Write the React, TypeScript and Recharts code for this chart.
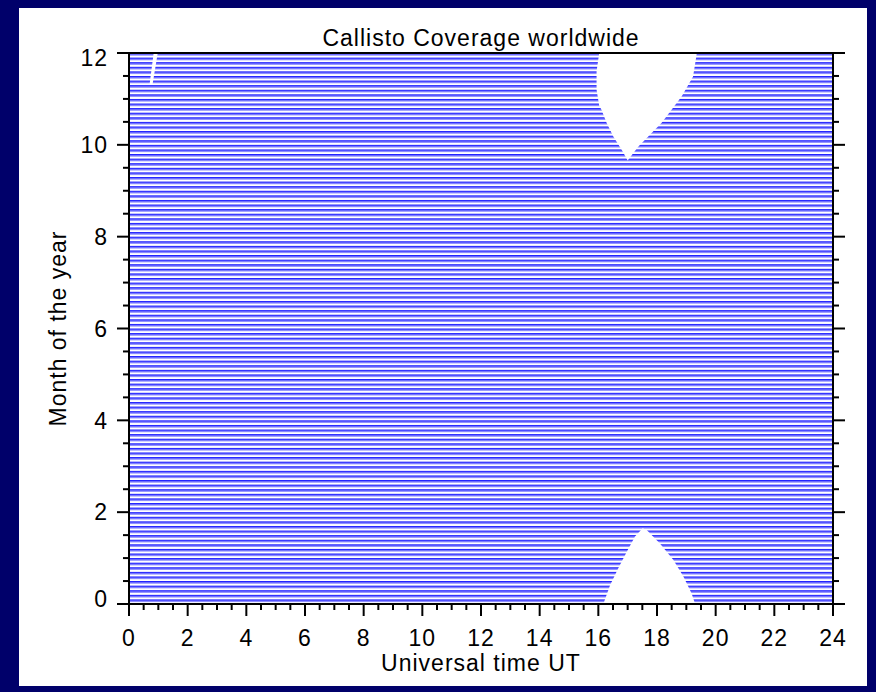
import { ComposedChart, Area, XAxis, YAxis, Label } from "recharts";

// Axis labels (UT hours and months), minor ticks every half unit
const hourLabels = [0, 2, 4, 6, 8, 10, 12, 14, 16, 18, 20, 22, 24];
const monthLabels = [0, 2, 4, 6, 8, 10, 12];

// Hatched band: the whole day / whole year is covered
const coverHours = [0, 24];
const coverFrom = [0, 0];
const coverTo = [12, 12];

// Uncovered gap at the start of the year (17-19 UT)
const gapJanHours = [16.17, 16.4, 16.68, 16.97, 17.25, 17.51, 17.65, 18.1, 18.56, 18.9, 19.18, 19.3];
const gapJanFrom = [0, 0, 0, 0, 0, 0, 0, 0, 0, 0, 0, 0];
const gapJanTo = [0, 0.41, 0.78, 1.14, 1.47, 1.65, 1.61, 1.32, 0.96, 0.6, 0.23, 0];

// Uncovered gap at the end of the year
const gapDecHours = [15.94, 16.03, 16.11, 16.28, 16.51, 16.8, 17.0, 17.36, 18.16, 18.84, 19.23, 19.35];
const gapDecFrom = [11.2, 10.85, 10.76, 10.48, 10.18, 9.89, 9.66, 9.96, 10.48, 11.05, 11.49, 11.96];
const gapDecTo = [11.6, 12, 12, 12, 12, 12, 12, 12, 12, 12, 12, 12];

// Thin sliver just after midnight in December
const sliverHours = [0.7, 0.8, 0.84, 0.98];
const sliverFrom = [11.31, 11.31, 11.46, 12];
const sliverTo = [11.31, 11.8, 12, 12];

const toRows = (hours: number[], from: number[], to: number[]) =>
	hours.map((h, i) => ({ h, m: [from[i], to[i]] }));

const halfSteps = (labels: number[]) => {
	const out: number[] = [];
	for (let i = 0; i < labels.length - 1; i++) {
		const a = labels[i];
		const b = labels[i + 1];
		out.push(a, a + (b - a) / 4, a + (b - a) / 2, a + (3 * (b - a)) / 4);
	}
	out.push(labels[labels.length - 1]);
	return out;
};

const hourTicks = halfSteps(hourLabels);
const monthTicks = halfSteps(monthLabels);

const font = {
	fontFamily: '"Liberation Sans", Arial, sans-serif',
	fontSize: 23,
	letterSpacing: 1,
	fill: "#000",
};

type TickProps = { x?: number; y?: number; payload?: { value: number } };

const isMajor = (v: number) => Math.abs(v % 2) < 1e-6;

const BottomTick = ({ x = 0, y = 0, payload }: TickProps) => {
	const v = payload?.value ?? 0;
	const major = isMajor(v);
	return (
		<g>
			<line x1={x} x2={x} y1={y} y2={y + (major ? 12 : 6)} stroke="#000" strokeWidth={2} />
			{major && (
				<text x={x} y={y + 42} textAnchor="middle" style={font}>
					{v}
				</text>
			)}
		</g>
	);
};

const TopTick = ({ x = 0, y = 0, payload }: TickProps) => {
	const major = isMajor(payload?.value ?? 0);
	return <line x1={x} x2={x} y1={y} y2={y - (major ? 12 : 6)} stroke="#000" strokeWidth={2} />;
};

const LeftTick = ({ x = 0, y = 0, payload }: TickProps) => {
	const v = payload?.value ?? 0;
	const major = isMajor(v);
	// keep the end labels inside the frame, as the original does
	const nudge = v === 12 ? 5 : v === 0 ? -5 : 0;
	return (
		<g>
			<line x1={x} x2={x - (major ? 12 : 6)} y1={y} y2={y} stroke="#000" strokeWidth={2} />
			{major && (
				<text x={x - 21} y={y + nudge} dy="0.36em" textAnchor="end" style={font}>
					{v}
				</text>
			)}
		</g>
	);
};

const RightTick = ({ x = 0, y = 0, payload }: TickProps) => {
	const major = isMajor(payload?.value ?? 0);
	return <line x1={x} x2={x + (major ? 12 : 6)} y1={y} y2={y} stroke="#000" strokeWidth={2} />;
};

type Box = { x: number; y: number; width: number; height: number };

const boxOf = (p: unknown): Box => {
	const vb = (p as { viewBox?: Box }).viewBox;
	return vb ?? { x: 0, y: 0, width: 0, height: 0 };
};

const axisLine = { stroke: "#000", strokeWidth: 2 };

export default function App() {
	return (
		<div
			style={{
				position: "absolute",
				left: 0,
				top: 0,
				width: 876,
				height: 692,
				background: "#00006a",
			}}
		>
			<div
				style={{
					position: "absolute",
					left: 19,
					top: 8,
					width: 848,
					height: 678,
					background: "#fff",
				}}
			>
				<ComposedChart width={848} height={678} margin={{ top: 0, right: 0, bottom: 0, left: 0 }}>
					<defs>
						<pattern id="stripes" patternUnits="userSpaceOnUse" x={0} y={45} width={8} height={4.5917}>
							<rect x={0} y={0} width={8} height={1.6} fill="#2222ff" />
							<rect x={0} y={1.6} width={8} height={1.0} fill="#8484ff" />
						</pattern>
					</defs>

					<Area
						data={toRows(coverHours, coverFrom, coverTo)}
						dataKey="m"
						type="linear"
						stroke="none"
						fill="url(#stripes)"
						fillOpacity={1}
						isAnimationActive={false}
					/>
					<Area
						data={toRows(gapJanHours, gapJanFrom, gapJanTo)}
						dataKey="m"
						type="linear"
						stroke="none"
						fill="#fff"
						fillOpacity={1}
						isAnimationActive={false}
					/>
					<Area
						data={toRows(gapDecHours, gapDecFrom, gapDecTo)}
						dataKey="m"
						type="linear"
						stroke="none"
						fill="#fff"
						fillOpacity={1}
						isAnimationActive={false}
					/>
					<Area
						data={toRows(sliverHours, sliverFrom, sliverTo)}
						dataKey="m"
						type="linear"
						stroke="none"
						fill="#fff"
						fillOpacity={1}
						isAnimationActive={false}
					/>

					<XAxis
						dataKey="h"
						type="number"
						domain={[0, 24]}
						allowDataOverflow
						ticks={hourTicks}
						interval={0}
						height={82}
						tickSize={0}
						tickMargin={0}
						tickLine={false}
						axisLine={axisLine}
						tick={<BottomTick />}
						label={
							<Label
								content={(p) => {
									const vb = boxOf(p);
									return (
										<text x={vb.x + vb.width / 2} y={vb.y + 67} textAnchor="middle" style={font}>
											Universal time UT
										</text>
									);
								}}
							/>
						}
					/>
					<XAxis
						xAxisId="top"
						orientation="top"
						type="number"
						domain={[0, 24]}
						allowDataOverflow
						ticks={hourTicks}
						interval={0}
						height={45}
						tickSize={0}
						tickMargin={0}
						tickLine={false}
						axisLine={axisLine}
						tick={<TopTick />}
						label={
							<Label
								content={(p) => {
									const vb = boxOf(p);
									return (
										<text x={vb.x + vb.width / 2} y={vb.y + 38} textAnchor="middle" style={font}>
											Callisto Coverage worldwide
										</text>
									);
								}}
							/>
						}
					/>
					<YAxis
						type="number"
						domain={[0, 12]}
						allowDataOverflow
						ticks={monthTicks}
						interval={0}
						width={110}
						tickSize={0}
						tickMargin={0}
						tickLine={false}
						axisLine={axisLine}
						tick={<LeftTick />}
						label={
							<Label
								content={(p) => {
									const vb = boxOf(p);
									const cx = vb.x + 47;
									const cy = vb.y + vb.height / 2;
									return (
										<text
											x={cx}
											y={cy}
											textAnchor="middle"
											transform={`rotate(-90 ${cx} ${cy})`}
											style={font}
										>
											Month of the year
										</text>
									);
								}}
							/>
						}
					/>
					<YAxis
						yAxisId="right"
						orientation="right"
						type="number"
						domain={[0, 12]}
						allowDataOverflow
						ticks={monthTicks}
						interval={0}
						width={34}
						tickSize={0}
						tickMargin={0}
						tickLine={false}
						axisLine={axisLine}
						tick={<RightTick />}
					/>
				</ComposedChart>
			</div>
		</div>
	);
}
